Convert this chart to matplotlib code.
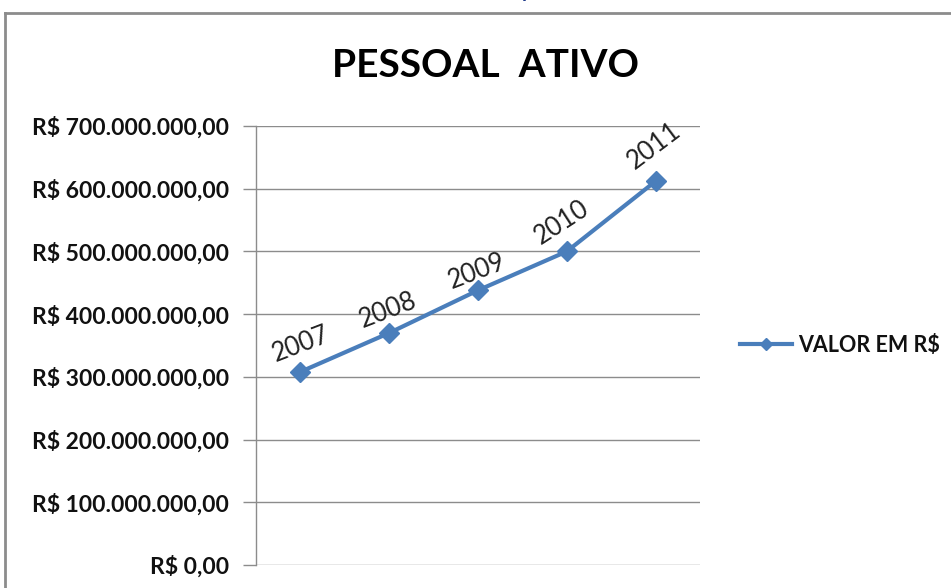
import matplotlib
matplotlib.use("Agg")
import matplotlib.pyplot as plt
from matplotlib.lines import Line2D
from matplotlib.ticker import FixedLocator

# ---- data ----
years = ["2007", "2008", "2009", "2010", "2011"]
values = [308e6, 370e6, 438e6, 500e6, 612e6]
y_ticks = [0, 100e6, 200e6, 300e6, 400e6, 500e6, 600e6, 700e6]
y_tick_labels = ["R$ 0,00", "R$ 100.000.000,00", "R$ 200.000.000,00",
                 "R$ 300.000.000,00", "R$ 400.000.000,00", "R$ 500.000.000,00",
                 "R$ 600.000.000,00", "R$ 700.000.000,00"]
title = "PESSOAL  ATIVO"
series_name = "VALOR EM R$"

# label styling (offsets in points, rotations in degrees)
label_offsets = [(0, 20), (-1, 16), (-1, 14), (-4, 21), (-1, 25)]
label_rot = [21, 21, 21, 33, 37]

W, H = 951, 588
fig = plt.figure(figsize=(W / 100, H / 100), dpi=100)
fig.patch.set_facecolor("white")

FONT = "Lato"
line_color = "#4A7EBB"
grid_color = "#8C8C8C"

ax = fig.add_axes([256 / W, 1 - 565 / H, (700 - 256) / W, (565 - 126) / H])
x = list(range(len(years)))
ax.plot(x, values, color=line_color, lw=3.0, marker="D", ms=10,
        markerfacecolor=line_color, markeredgecolor=line_color, zorder=3)

ax.set_xlim(-0.5, len(years) - 0.5)
ax.set_ylim(0, 700e6)
ax.yaxis.set_major_locator(FixedLocator(y_ticks))
ax.set_yticklabels(y_tick_labels, fontfamily=FONT, fontweight="bold",
                   fontsize=16.5, color="#111111")
ax.set_xticks([])
ax.tick_params(axis="y", direction="out", length=9.5, width=1, color=grid_color, pad=10)
ax.grid(axis="y", color=grid_color, lw=1)
ax.set_axisbelow(True)
for s in ["top", "right", "bottom"]:
    ax.spines[s].set_visible(False)
ax.spines["left"].set_color(grid_color)
ax.spines["left"].set_linewidth(1)

for xi, v, lab, off, rot in zip(x, values, years, label_offsets, label_rot):
    ax.annotate(lab, (xi, v), xytext=off, textcoords="offset points",
                ha="center", va="center", rotation=rot, rotation_mode="anchor",
                fontfamily=FONT, fontsize=18.5, color="#222222")

# title
fig.text(485 / W, 1 - 77 / H, title, ha="center", va="baseline",
         fontfamily=FONT, fontweight="bold", fontsize=28, color="black")

# legend
handle = Line2D([], [], color=line_color, lw=3.0, marker="D", ms=6,
                markerfacecolor=line_color, markeredgecolor=line_color)
leg = fig.legend([handle], [series_name], loc="center left",
                 bbox_to_anchor=(740 / W, 1 - 345 / H), frameon=False,
                 borderpad=0, borderaxespad=0, handlelength=2.4, handletextpad=0.3,
                 prop={"family": FONT, "weight": "bold", "size": 15.5})
for t in leg.get_texts():
    t.set_color("#111111")

# chart border (partially visible frame)
fig.add_artist(Line2D([5 / W, 1], [1 - 13 / H, 1 - 13 / H], transform=fig.transFigure,
                      color="#8C8C8C", lw=2))
fig.add_artist(Line2D([5 / W, 5 / W], [0, 1 - 13 / H], transform=fig.transFigure,
                      color="#8C8C8C", lw=2))

# cropped text fragment at the top
fig.text(527 / W, 1 + 2 / H, "p", ha="center", va="baseline",
         fontfamily=FONT, fontweight="bold", fontsize=14, color="#1F3A8A")

fig.savefig("out.png", dpi=100)
